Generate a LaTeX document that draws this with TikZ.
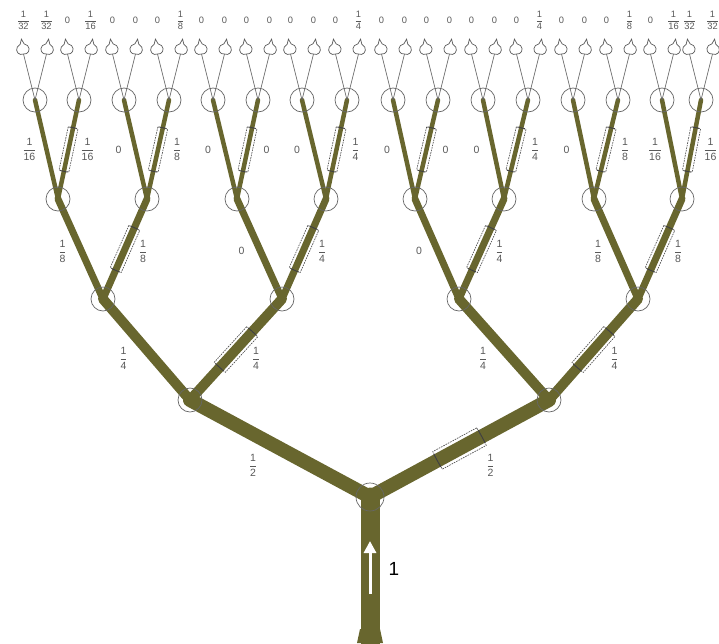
\documentclass[tikz,border=0pt]{standalone}
\usepackage{amsmath}
\usepackage{fontspec}
\setmainfont{Liberation Sans}
\usetikzlibrary{arrows.meta}
\usetikzlibrary{calc}
\usetikzlibrary{backgrounds}
\definecolor{pipecol}{RGB}{104,102,46}
\tikzset{>=latex}
\tikzstyle{pipe} = [line cap=round, color=pipecol]
\tikzstyle{joint} = [circle, draw=black!60, line width=0.7, minimum size=24, inner sep=0pt]
\tikzstyle{valve} = [%
					rectangle,
					draw=black!70,
					dash pattern=on 1.6pt off 1pt,
					line width=0.65,
					inner sep=0pt
					]
\tikzstyle{flow} = [text=black!65, font=\fontsize{10.5}{11}\selectfont, inner sep=1pt]
\tikzstyle{leaf} = [text=black!65, font=\fontsize{9.3}{10}\selectfont, inner sep=0.5pt]
\tikzstyle{tube} = [black!60, line width=0.7]
\tikzstyle{spray} = [black!65, line width=0.7, fill=white]
\newcommand{\fr}[2]{$\genfrac{}{}{0.5pt}{0}{\mbox{#1}}{\mbox{#2}}$}
\newcommand{\nozzle}[2]{\draw[spray, shift={(#1)}, rotate=#2] (0,-15) -- (2,-10) .. controls (8,-8) and (7,-1) .. (3,0) -- (-3,0) .. controls (-7,-1) and (-8,-8) .. (-2,-10) -- cycle;}
\newcommand{\valve}[5]{%
	\path let \p1=($(#2)-(#1)$), \n1={atan2(\y1,\x1)} in node[valve, rotate=\n1, minimum width=#3, minimum height=#4] (#5) at ($(#1)!0.5!(#2)$) {};
	\draw[black!75, line width=0.8] ($(#5.west)!0.7!(#5.north west)$) -- ($(#5.west)!0.7!(#5.south west)$) ($(#5.east)!0.7!(#5.north east)$) -- ($(#5.east)!0.7!(#5.south east)$);}

\begin{document}
\begin{tikzpicture}[x=1pt, y=-1pt]
	\useasboundingbox (0,0) rectangle (719,643);

	% Joints
	\node[joint, minimum size=28] (r) at (370,497) {};
	\node[joint] (a1) at (190,400) {};
	\node[joint] (a2) at (549,400) {};
	\foreach \x [count=\i] in {103,282,459,638}
		\node[joint] (b\i) at (\x,299) {};
	\foreach \x [count=\i] in {58,147,237,326,415,504,594,682}
		\node[joint] (c\i) at (\x,199) {};
	\foreach \x [count=\i] in {35,79,124,169,213,258,302,347,393,438,483,528,573,618,662,701}
		\node[joint] (d\i) at (\x,100) {};

	\begin{scope}[on background layer]
	% Trunk
	\coordinate (base) at (370,643);
	\fill[pipecol] (357,643) -- (383,643) -- (380,629) -- (360,629) -- cycle;
	\draw[pipe, line width=19] (base) -- (r.center);

	% Level 1
	\draw[pipe, line width=14] (r.center) -- (a1.center) node[flow, midway, xshift=-27, yshift=-17] (f1) {\fr{1}{2}};
	\draw[pipe, line width=14] (r.center) -- (a2.center) node[flow, midway, xshift=31, yshift=-17] (f2) {\fr{1}{2}};
	\valve{r}{a2}{50}{20}{v1}

	% Level 2
	\draw[pipe, line width=10] (a1.center) -- (b1.center) node[flow, midway, xshift=-23, yshift=-9] (h1) {\fr{1}{4}};
	\draw[pipe, line width=10] (a1.center) -- (b2.center) node[flow, midway, xshift=20, yshift=-9] (h2) {\fr{1}{4}};
	\draw[pipe, line width=10] (a2.center) -- (b3.center) node[flow, midway, xshift=-21, yshift=-9] (h3) {\fr{1}{4}};
	\draw[pipe, line width=10] (a2.center) -- (b4.center) node[flow, midway, xshift=21, yshift=-9] (h4) {\fr{1}{4}};
	\valve{a1}{b2}{48}{15}{u2}
	\valve{a2}{b4}{48}{15}{u4}

	% Level 3
	\foreach \k/\p/\q in {1/{\fr{1}{8}}/{\fr{1}{8}}, 2/0/{\fr{1}{4}}, 3/0/{\fr{1}{4}}, 4/{\fr{1}{8}}/{\fr{1}{8}}}
	{
		\pgfmathtruncatemacro{\ml}{2*\k-1}
		\pgfmathtruncatemacro{\mr}{2*\k}
		\draw[pipe, line width=7] (b\k.center) -- (c\ml.center) node[flow, midway, xshift=-18, yshift=-2] (g\ml) {\p};
		\draw[pipe, line width=7] (b\k.center) -- (c\mr.center) node[flow, midway, xshift=18, yshift=-2] (g\mr) {\q};
		\valve{b\k}{c\mr}{46}{12}{w\mr}
	}

	% Level 4
	\foreach \k/\p/\q in {1/{\fr{1}{16}}/{\fr{1}{16}}, 2/0/{\fr{1}{8}}, 3/0/0, 4/0/{\fr{1}{4}}, 5/0/0, 6/0/{\fr{1}{4}}, 7/0/{\fr{1}{8}}, 8/{\fr{1}{16}}/{\fr{1}{16}}}
	{
		\pgfmathtruncatemacro{\ml}{2*\k-1}
		\pgfmathtruncatemacro{\mr}{2*\k}
		\draw[pipe, line width=4.5] (c\k.center) -- (d\ml.center) node[flow, midway, xshift=-17] (k\ml) {\p};
		\draw[pipe, line width=4.5] (c\k.center) -- (d\mr.center) node[flow, midway, xshift=19] (k\mr) {\q};
		\valve{c\k}{d\mr}{44}{10}{s\mr}
	}
	\end{scope}

	% Sprays
	\foreach \j in {1,...,16}
	{
		\pgfmathtruncatemacro{\ml}{2*\j-1}
		\pgfmathtruncatemacro{\mr}{2*\j}
		\coordinate (e\ml) at ($(d\j)+(-11.5,-46)$);
		\coordinate (e\mr) at ($(d\j)+(11.5,-46)$);
		\draw[tube] (d\j.center) -- (e\ml);
		\draw[tube] (d\j.center) -- (e\mr);
		\nozzle{e\ml}{8}
		\nozzle{e\mr}{-8}
	}
	\foreach \lab [count=\i] in {{\fr{1}{32}},{\fr{1}{32}},0,{\fr{1}{16}},0,0,0,{\fr{1}{8}},0,0,0,0,0,0,0,{\fr{1}{4}},0,0,0,0,0,0,0,{\fr{1}{4}},0,0,0,{\fr{1}{8}},0,{\fr{1}{16}},{\fr{1}{32}},{\fr{1}{32}}}
		\node[leaf] (t\i) at ($(e\i)+(0,-34)$) {\lab};

	% Inflow
	\coordinate (tail) at (370,594);
	\coordinate (head) at (370,541);
	\draw[white, line width=3, -{Triangle[width=12pt,length=12pt]}] (tail) -- (head);
	\node[font=\fontsize{19}{20}\selectfont] (inflow) at (394,569) {1};

\end{tikzpicture}
\end{document}
